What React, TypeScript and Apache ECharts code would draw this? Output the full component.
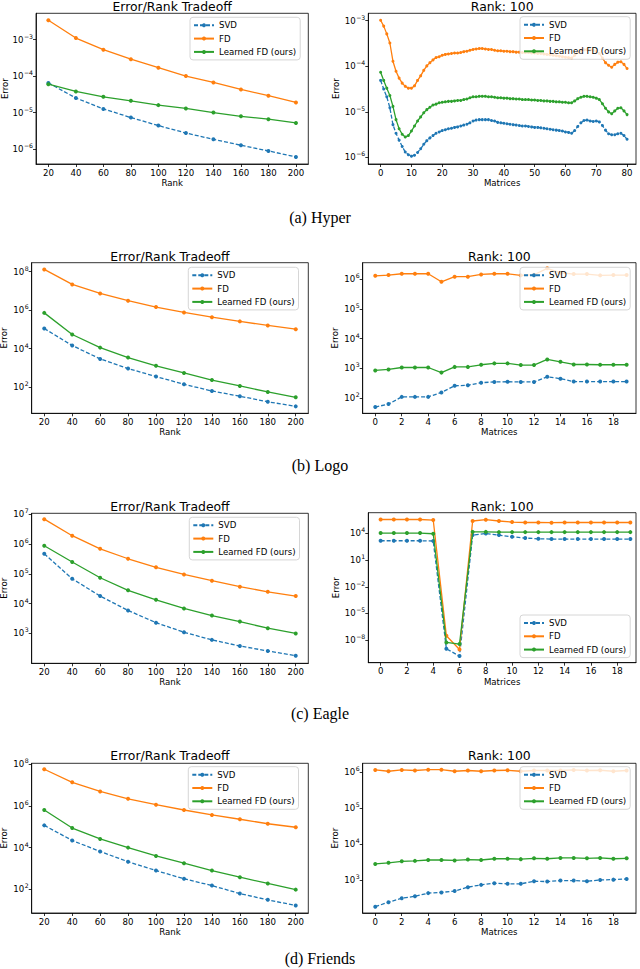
import React, { useEffect, useRef } from "react";
import * as echarts from "echarts";

const SERIES_NAMES = ["SVD", "FD", "Learned FD (ours)"];
const RANKS = [20, 40, 60, 80, 100, 120, 140, 160, 180, 200];
const RANK_TICKS = [20, 40, 60, 80, 100, 120, 140, 160, 180, 200];
const HYPER_MATRIX_TICKS = [0, 10, 20, 30, 40, 50, 60, 70, 80];
const MATRIX_TICKS = [0, 2, 4, 6, 8, 10, 12, 14, 16, 18];
const CAPTIONS = ["(a) Hyper", "(b) Logo", "(c) Eagle", "(d) Friends"];

// (a) Hyper
const hyperRankSVD = [6.5e-5, 2.5e-5, 1.26e-5, 7.3e-6, 4.4e-6, 2.75e-6, 1.85e-6, 1.27e-6, 8.9e-7, 6.1e-7];
const hyperRankFD = [3.4e-3, 1.1e-3, 5.3e-4, 2.9e-4, 1.7e-4, 1.0e-4, 6.7e-5, 4.3e-5, 2.9e-5, 1.9e-5];
const hyperRankLFD = [6.0e-5, 3.8e-5, 2.7e-5, 2.1e-5, 1.6e-5, 1.3e-5, 1.0e-5, 7.9e-6, 6.6e-6, 5.2e-6];
const hyperSVD = [
  4.9e-5, 3.16e-5, 2.14e-5, 1.23e-5, 5.25e-6, 3.39e-6, 2.4e-6, 1.74e-6, 1.32e-6, 1.15e-6,
  1.07e-6, 1.12e-6, 1.29e-6, 1.55e-6, 1.95e-6, 2.34e-6, 2.69e-6, 3.02e-6, 3.39e-6, 3.63e-6,
  3.89e-6, 4.07e-6, 4.27e-6, 4.37e-6, 4.57e-6, 4.68e-6, 4.9e-6, 5.13e-6, 5.37e-6, 5.75e-6,
  6.31e-6, 6.61e-6, 6.76e-6, 6.76e-6, 6.76e-6, 6.76e-6, 6.46e-6, 6.31e-6, 5.89e-6, 5.75e-6,
  5.62e-6, 5.5e-6, 5.37e-6, 5.25e-6, 5.13e-6, 5.01e-6, 4.9e-6, 4.9e-6, 4.79e-6, 4.68e-6,
  4.57e-6, 4.57e-6, 4.47e-6, 4.37e-6, 4.27e-6, 4.17e-6, 4.07e-6, 3.98e-6, 3.89e-6, 3.8e-6,
  3.63e-6, 3.55e-6, 3.39e-6, 3.89e-6, 4.79e-6, 5.75e-6, 6.46e-6, 6.61e-6, 6.31e-6, 6.17e-6,
  6.31e-6, 6.03e-6, 5.01e-6, 3.98e-6, 3.31e-6, 3.16e-6, 3.16e-6, 3.31e-6, 3.39e-6, 3.02e-6, 2.51e-6,
];
const hyperFD = [
  1.02e-3, 7.59e-4, 5.13e-4, 3.24e-4, 1.29e-4, 7.76e-5, 5.5e-5, 4.27e-5, 3.63e-5, 3.31e-5,
  3.31e-5, 3.72e-5, 4.9e-5, 6.17e-5, 8.13e-5, 1.02e-4, 1.2e-4, 1.38e-4, 1.55e-4, 1.62e-4,
  1.74e-4, 1.82e-4, 1.86e-4, 1.91e-4, 1.95e-4, 1.95e-4, 2.0e-4, 2.09e-4, 2.14e-4, 2.24e-4,
  2.34e-4, 2.4e-4, 2.45e-4, 2.45e-4, 2.4e-4, 2.34e-4, 2.34e-4, 2.24e-4, 2.19e-4, 2.19e-4,
  2.14e-4, 2.14e-4, 2.09e-4, 2.09e-4, 2.04e-4, 2.04e-4, 2.0e-4, 2.0e-4, 2.0e-4, 1.95e-4,
  1.95e-4, 1.91e-4, 1.91e-4, 1.86e-4, 1.82e-4, 1.78e-4, 1.74e-4, 1.7e-4, 1.66e-4, 1.62e-4,
  1.58e-4, 1.55e-4, 1.51e-4, 1.74e-4, 2.0e-4, 2.19e-4, 2.29e-4, 2.34e-4, 2.29e-4, 2.24e-4,
  2.14e-4, 1.91e-4, 1.51e-4, 1.2e-4, 1.05e-4, 9.55e-5, 1.1e-4, 1.23e-4, 1.26e-4, 1.1e-4, 8.91e-5,
];
const hyperLFD = [
  7.41e-5, 4.9e-5, 3.31e-5, 2.29e-5, 1.32e-5, 6.76e-6, 4.27e-6, 3.24e-6, 2.82e-6, 3.02e-6,
  3.8e-6, 4.9e-6, 6.31e-6, 7.76e-6, 9.55e-6, 1.12e-5, 1.26e-5, 1.41e-5, 1.48e-5, 1.58e-5,
  1.62e-5, 1.66e-5, 1.7e-5, 1.7e-5, 1.74e-5, 1.78e-5, 1.78e-5, 1.86e-5, 1.91e-5, 2.04e-5,
  2.14e-5, 2.14e-5, 2.19e-5, 2.19e-5, 2.19e-5, 2.14e-5, 2.14e-5, 2.09e-5, 2.04e-5, 2.04e-5,
  2.0e-5, 2.0e-5, 1.95e-5, 1.95e-5, 1.91e-5, 1.91e-5, 1.86e-5, 1.86e-5, 1.86e-5, 1.82e-5,
  1.82e-5, 1.78e-5, 1.78e-5, 1.74e-5, 1.74e-5, 1.7e-5, 1.7e-5, 1.66e-5, 1.66e-5, 1.62e-5,
  1.62e-5, 1.58e-5, 1.58e-5, 1.74e-5, 1.95e-5, 2.09e-5, 2.19e-5, 2.19e-5, 2.14e-5, 2.09e-5,
  2.0e-5, 1.86e-5, 1.51e-5, 1.2e-5, 1.0e-5, 9.12e-6, 1.05e-5, 1.2e-5, 1.23e-5, 1.05e-5, 8.71e-6,
];

// (b) Logo
const logoRankSVD = [1.1e5, 1.44e4, 2.9e3, 9.1e2, 3.5e2, 1.38e2, 62, 33, 17, 9.8];
const logoRankFD = [1.32e8, 2.19e7, 7.4e6, 3.1e6, 1.45e6, 7.6e5, 4.3e5, 2.6e5, 1.6e5, 1.02e5];
const logoRankLFD = [7.2e5, 5.4e4, 1.12e4, 3.4e3, 1.26e3, 5.4e2, 2.3e2, 1.13e2, 55, 29];
const logoSVD = [50, 63, 110, 110, 110, 155, 260, 270, 330, 350, 355, 350, 350, 520, 450, 360, 360, 360, 360, 360];
const logoFD = [1.29e6, 1.36e6, 1.51e6, 1.51e6, 1.51e6, 8.1e5, 1.2e6, 1.2e6, 1.43e6, 1.51e6, 1.51e6, 1.33e6, 1.4e6, 2.3e6, 1.63e6, 1.47e6, 1.47e6, 1.33e6, 1.36e6, 1.36e6];
const logoLFD = [850, 920, 1070, 1070, 1070, 720, 1120, 1120, 1320, 1470, 1470, 1290, 1290, 2000, 1660, 1350, 1350, 1320, 1320, 1320];

// (c) Eagle
const eagleRankSVD = [4.7e5, 6.8e4, 1.8e4, 5.9e3, 2.3e3, 1.1e3, 6.1e2, 3.8e2, 2.6e2, 1.8e2];
const eagleRankFD = [6.8e6, 1.9e6, 6.9e5, 3.2e5, 1.66e5, 9.5e4, 5.9e4, 3.7e4, 2.5e4, 1.8e4];
const eagleRankLFD = [8.7e5, 2.5e5, 7.4e4, 2.8e4, 1.35e4, 6.9e3, 4.0e3, 2.5e3, 1.5e3, 1.0e3];
const eagleSVD = [1.5e3, 1.5e3, 1.5e3, 1.5e3, 1.4e3, 1.07e-9, 1.6e-10, 6.5e3, 1.0e4, 6.5e3, 4.2e3, 3.0e3, 2.5e3, 2.3e3, 2.3e3, 2.3e3, 2.3e3, 2.3e3, 2.3e3, 2.3e3];
const eagleFD = [3.7e5, 3.7e5, 3.7e5, 3.7e5, 3.2e5, 3.1e-8, 8.9e-10, 2.5e5, 3.5e5, 2.5e5, 1.9e5, 1.7e5, 1.7e5, 1.6e5, 1.7e5, 1.7e5, 1.7e5, 1.7e5, 1.7e5, 1.7e5];
const eagleLFD = [1.1e4, 1.1e4, 1.1e4, 1.1e4, 9.2e3, 5.5e-9, 3.6e-9, 1.5e4, 1.5e4, 1.4e4, 1.4e4, 1.4e4, 1.4e4, 1.4e4, 1.4e4, 1.4e4, 1.4e4, 1.4e4, 1.4e4, 1.4e4];

// (d) Friends
const friendsRankSVD = [1.17e5, 2.2e4, 6.5e3, 2.1e3, 7.9e2, 3.2e2, 1.5e2, 62, 31, 16.6];
const friendsRankFD = [5.8e7, 1.37e7, 5.0e6, 2.2e6, 1.15e6, 6.4e5, 3.7e5, 2.3e5, 1.4e5, 9.5e4];
const friendsRankLFD = [6.4e5, 8.7e4, 2.6e4, 1.0e4, 4.0e3, 1.78e3, 7.9e2, 3.8e2, 1.9e2, 96];
const friendsSVD = [180, 240, 310, 350, 430, 450, 490, 630, 730, 810, 780, 780, 920, 900, 960, 960, 920, 1000, 1020, 1070];
const friendsFD = [1.16e6, 1.07e6, 1.16e6, 1.12e6, 1.18e6, 1.18e6, 1.07e6, 1.12e6, 1.07e6, 1.12e6, 1.14e6, 1.07e6, 1.12e6, 1.12e6, 1.12e6, 1.16e6, 1.12e6, 1.14e6, 1.07e6, 1.12e6];
const friendsLFD = [2.8e3, 3.0e3, 3.3e3, 3.4e3, 3.6e3, 3.6e3, 3.5e3, 3.7e3, 3.6e3, 3.9e3, 3.9e3, 3.8e3, 4.0e3, 3.9e3, 4.1e3, 4.1e3, 4.0e3, 4.1e3, 3.9e3, 4.0e3];

const FONT = "'DejaVu Sans', sans-serif";
const SERIF = "'Liberation Serif', 'DejaVu Serif', serif";
const COLORS = ["#1f77b4", "#ff7f0e", "#2ca02c"];

const fmtPow = (v: number) => {
  const e = Math.round(Math.log10(v));
  const s = e < 0 ? "\u2212" + String(-e) : String(e);
  return "{b|10}{s|" + s + "}";
};

type Panel = {
  box: [number, number, number, number];
  xr: [number, number];
  xticks: number[];
  yr: [number, number];
  yticks: number[];
  title: string;
  titleY: number;
  xname: string;
  xnameY: number;
  ynameX: number;
  leg: [number, number];
  xs: number[] | null;
  ys: number[][];
  sym: number;
};

const panels: Panel[] = [
  {
    box: [36, 13.3, 308.3, 164], xr: [11, 209], xticks: RANK_TICKS,
    yr: [3.9e-7, 5.25e-3], yticks: [1e-6, 1e-5, 1e-4, 1e-3],
    title: "Error/Rank Tradeoff", titleY: 6.5, xname: "Rank", xnameY: 183, ynameX: 5,
    leg: [190, 17.3], xs: RANKS, ys: [hyperRankSVD, hyperRankFD, hyperRankLFD], sym: 4,
  },
  {
    box: [368.3, 13.3, 636, 164], xr: [-4, 82.9], xticks: HYPER_MATRIX_TICKS,
    yr: [7.2e-7, 1.45e-3], yticks: [1e-6, 1e-5, 1e-4, 1e-3],
    title: "Rank: 100", titleY: 6.5, xname: "Matrices", xnameY: 183, ynameX: 336,
    leg: [520, 16.7], xs: null, ys: [hyperSVD, hyperFD, hyperLFD], sym: 3,
  },
  {
    box: [31.7, 262.7, 308.3, 413.3], xr: [11, 209], xticks: RANK_TICKS,
    yr: [4.27, 2.95e8], yticks: [1e2, 1e4, 1e6, 1e8],
    title: "Error/Rank Tradeoff", titleY: 256, xname: "Rank", xnameY: 432, ynameX: 4,
    leg: [188.3, 267.3], xs: RANKS, ys: [logoRankSVD, logoRankFD, logoRankLFD], sym: 4,
  },
  {
    box: [362.7, 262.7, 636, 413.3], xr: [-0.95, 19.71], xticks: MATRIX_TICKS,
    yr: [30.9, 3.55e6], yticks: [1e2, 1e3, 1e4, 1e5, 1e6],
    title: "Rank: 100", titleY: 256, xname: "Matrices", xnameY: 432, ynameX: 335,
    leg: [520, 267.3], xs: null, ys: [logoSVD, logoFD, logoLFD], sym: 4,
  },
  {
    box: [31.7, 513.3, 308.3, 663.3], xr: [11, 209], xticks: RANK_TICKS,
    yr: [1.0e2, 1.07e7], yticks: [1e3, 1e4, 1e5, 1e6, 1e7],
    title: "Error/Rank Tradeoff", titleY: 506, xname: "Rank", xnameY: 682, ynameX: 4,
    leg: [189.3, 517.3], xs: RANKS, ys: [eagleRankSVD, eagleRankFD, eagleRankLFD], sym: 4,
  },
  {
    box: [368.3, 512.7, 636, 662.7], xr: [-0.94, 19.43], xticks: MATRIX_TICKS,
    yr: [2.9e-11, 2.14e6], yticks: [1e-8, 1e-5, 1e-2, 1e1, 1e4],
    title: "Rank: 100", titleY: 506, xname: "Matrices", xnameY: 682, ynameX: 336,
    leg: [520, 615], xs: null, ys: [eagleSVD, eagleFD, eagleLFD], sym: 4,
  },
  {
    box: [31.7, 763.3, 308.3, 913], xr: [11, 209], xticks: RANK_TICKS,
    yr: [7.24, 1.12e8], yticks: [1e2, 1e4, 1e6, 1e8],
    title: "Error/Rank Tradeoff", titleY: 755, xname: "Rank", xnameY: 932, ynameX: 4,
    leg: [188.3, 766.7], xs: RANKS, ys: [friendsRankSVD, friendsRankFD, friendsRankLFD], sym: 4,
  },
  {
    box: [362.7, 763.3, 636, 913], xr: [-0.95, 19.71], xticks: MATRIX_TICKS,
    yr: [120, 1.78e6], yticks: [1e3, 1e4, 1e5, 1e6],
    title: "Rank: 100", titleY: 755, xname: "Matrices", xnameY: 932, ynameX: 335,
    leg: [520, 766.7], xs: null, ys: [friendsSVD, friendsFD, friendsLFD], sym: 4,
  },
];

const CAPTION_Y = [217, 465, 713, 958];

function buildOption() {
  const grid = panels.map((p) => ({
    left: p.box[0],
    top: p.box[1],
    width: p.box[2] - p.box[0],
    height: p.box[3] - p.box[1],
    show: true,
    borderColor: "#000",
    borderWidth: 0.8,
    backgroundColor: "transparent",
    containLabel: false,
  }));
  const axisCommon = {
    axisLine: { show: true, onZero: false, lineStyle: { color: "#000", width: 0.8 } },
    splitLine: { show: false },
  };
  const xAxis = panels.map((p, i) => ({
    type: "value",
    gridIndex: i,
    min: p.xr[0],
    max: p.xr[1],
    ...axisCommon,
    axisTick: { show: true, length: 3, customValues: p.xticks, lineStyle: { color: "#000", width: 0.8 } },
    axisLabel: { customValues: p.xticks, fontSize: 8.6, color: "#000", fontFamily: FONT, margin: 4 },
  }));
  const yAxis = panels.map((p, i) => ({
    type: "log",
    logBase: 10,
    gridIndex: i,
    min: p.yr[0],
    max: p.yr[1],
    ...axisCommon,
    axisTick: { show: true, length: 3, customValues: p.yticks, lineStyle: { color: "#000", width: 0.8 } },
    axisLabel: {
      customValues: p.yticks,
      color: "#000",
      margin: 3,
      formatter: (v: number) => fmtPow(v),
      rich: {
        b: { fontSize: 8.6, fontFamily: FONT, color: "#000", verticalAlign: "middle" },
        s: { fontSize: 6.2, fontFamily: FONT, color: "#000", verticalAlign: "middle", padding: [0, 0, 7, 0.5] },
      },
    },
  }));
  const series: any[] = [];
  panels.forEach((p, i) => {
    p.ys.forEach((vals, k) => {
      series.push({
        type: "line",
        name: SERIES_NAMES[k],
        xAxisIndex: i,
        yAxisIndex: i,
        data: vals.map((v, j) => [p.xs ? p.xs[j] : j, v]),
        symbol: "circle",
        symbolSize: p.sym,
        showSymbol: true,
        lineStyle: { color: COLORS[k], width: 1.3, type: k === 0 ? [4, 2] : "solid" },
        itemStyle: { color: COLORS[k] },
        emphasis: { disabled: true },
        silent: true,
        z: 2 + k,
      });
    });
  });
  const legend = panels.map((p) => ({
    show: true,
    orient: "vertical",
    left: p.leg[0],
    top: p.leg[1],
    data: SERIES_NAMES,
    itemWidth: 20,
    itemHeight: 5,
    itemGap: 3.3,
    padding: [3, 4, 3, 3],
    backgroundColor: "rgba(255,255,255,0.8)",
    borderColor: "#cccccc",
    borderWidth: 0.8,
    borderRadius: 3,
    selectedMode: false,
    textStyle: { fontSize: 8.6, fontFamily: FONT, color: "#000", lineHeight: 10 },
    z: 10,
  }));
  const graphic: any[] = [];
  panels.forEach((p) => {
    const cx = (p.box[0] + p.box[2]) / 2;
    const cy = (p.box[1] + p.box[3]) / 2;
    graphic.push({
      type: "text", x: cx, y: p.titleY, silent: true,
      style: { text: p.title, fontSize: 12.4, fontFamily: FONT, fill: "#000", align: "center", verticalAlign: "middle" },
    });
    graphic.push({
      type: "text", x: cx, y: p.xnameY, silent: true,
      style: { text: p.xname, fontSize: 8.6, fontFamily: FONT, fill: "#000", align: "center", verticalAlign: "middle" },
    });
    graphic.push({
      type: "text", x: p.ynameX, y: cy, rotation: Math.PI / 2, silent: true,
      style: { text: "Error", fontSize: 8.6, fontFamily: FONT, fill: "#000", align: "center", verticalAlign: "middle" },
    });
  });
  CAPTIONS.forEach((c, i) => {
    graphic.push({
      type: "text", x: 320, y: CAPTION_Y[i], silent: true,
      style: { text: c, fontSize: 16, fontFamily: SERIF, fill: "#000", align: "center", verticalAlign: "middle" },
    });
  });
  return {
    animation: false,
    backgroundColor: "#ffffff",
    grid,
    xAxis,
    yAxis,
    series,
    legend,
    graphic,
  };
}

export default function App() {
  const ref = useRef<HTMLDivElement>(null);
  useEffect(() => {
    if (!ref.current) return;
    const chart = echarts.init(ref.current, undefined, { renderer: "svg" });
    chart.setOption(buildOption() as any);
    return () => chart.dispose();
  }, []);
  return (
    <div
      ref={ref}
      style={{ position: "absolute", left: 0, top: 0, width: 640, height: 969 }}
    />
  );
}
